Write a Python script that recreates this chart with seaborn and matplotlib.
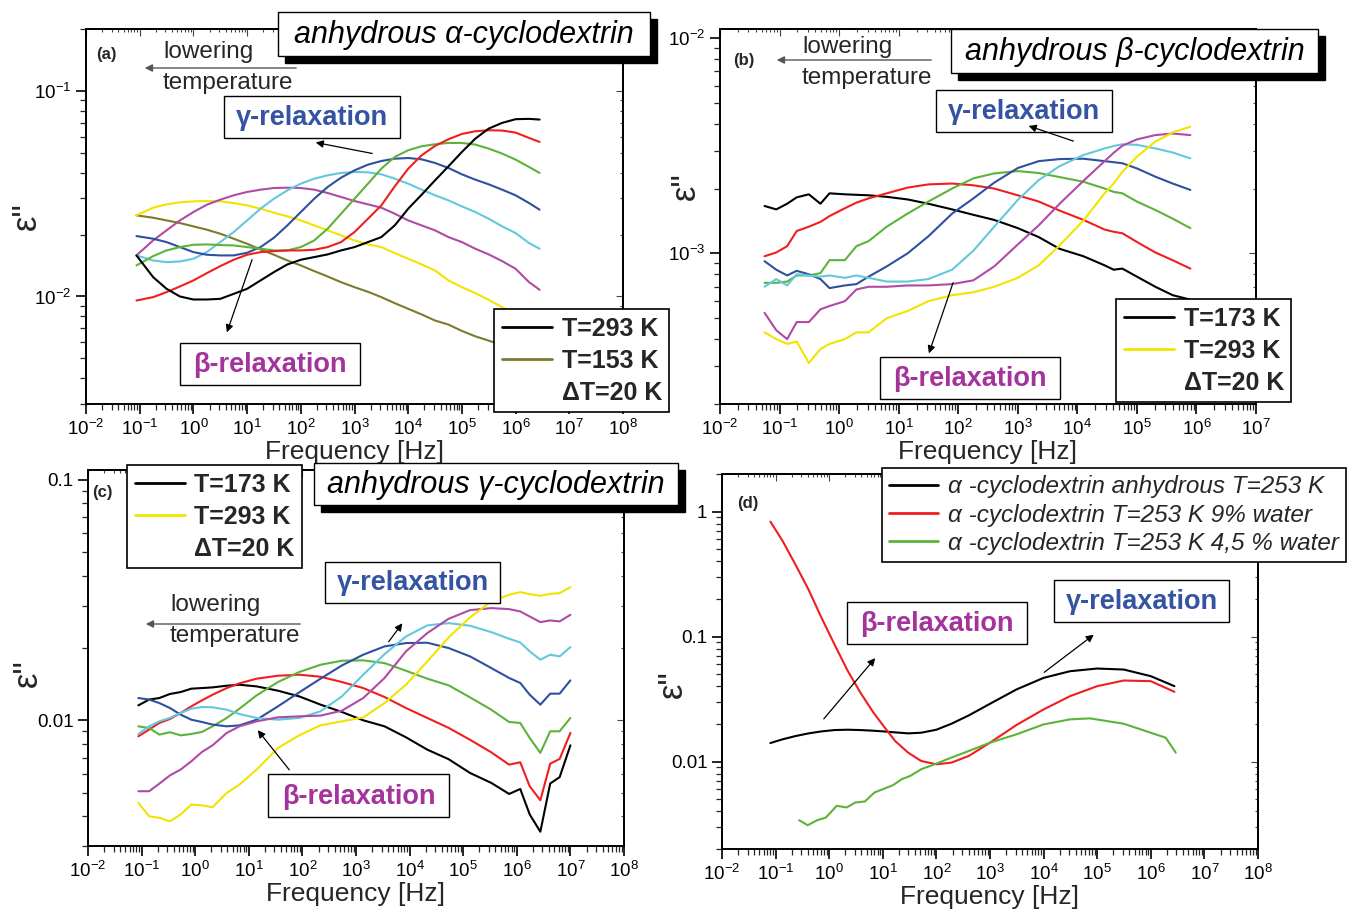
import matplotlib
matplotlib.use("Agg")
import matplotlib.pyplot as plt
import matplotlib.ticker as mticker
from matplotlib.lines import Line2D
from matplotlib.patches import Rectangle, FancyArrowPatch
import seaborn as sns

W, H = 1349, 913

# series colours
BLACK = "#000000"
RED = "#f01e1e"
GREEN = "#5db33a"
BLUE = "#2f4f9f"
CYAN = "#62c9dc"
MAGENTA = "#b04aa6"
YELLOW = "#f2e400"
OLIVE = "#7d7a2c"
GAMMA_COL = "#3553a3"
BETA_COL = "#a4339c"

# (a) anhydrous alpha-cyclodextrin, 293 K down to 153 K
freq_a = [0.087, 0.178, 0.316, 0.562, 1, 1.78, 3.16, 5.62, 10, 17.8, 31.6, 56.2, 100, 178, 316, 562,
          1e3, 1.78e3, 3.16e3, 5.62e3, 1e4, 1.78e4, 3.16e4, 5.62e4, 1e5, 1.78e5, 3.16e5, 5.62e5, 1e6, 1.78e6, 2.8e6]
a_293 = [0.01584, 0.01242, 0.0109, 0.0100, 0.00967, 0.00967, 0.00974, 0.0103, 0.0109, 0.01197, 0.01314, 0.01432, 0.01509,
         0.01555, 0.01602, 0.01675, 0.01739, 0.01839, 0.01945, 0.02217, 0.02673, 0.03127, 0.03673, 0.04296, 0.05047,
         0.05861, 0.06557, 0.06989, 0.07283, 0.0731, 0.07254]
a_273 = [0.00956, 0.00993, 0.0105, 0.01119, 0.01197, 0.01299, 0.01405, 0.01509, 0.01596, 0.01644, 0.01662, 0.01675, 0.01675,
         0.01688, 0.01739, 0.01839, 0.02058, 0.02389, 0.02774, 0.03434, 0.04185, 0.04862, 0.054, 0.05816, 0.06175,
         0.06363, 0.06436, 0.06412, 0.06269, 0.05904, 0.05645]
a_253 = [0.01416, 0.01572, 0.01675, 0.01739, 0.01785, 0.01792, 0.01779, 0.01772, 0.01739, 0.01707, 0.01675, 0.01675, 0.01739,
         0.01874, 0.02136, 0.02527, 0.02989, 0.03538, 0.04185, 0.04772, 0.05144, 0.05378, 0.055, 0.05583, 0.05583,
         0.0548, 0.0524, 0.04954, 0.04632, 0.04266, 0.03989]
a_233 = [0.01967, 0.0191, 0.01839, 0.01739, 0.01644, 0.01596, 0.01584, 0.01584, 0.01632, 0.01739, 0.01931, 0.02217, 0.02575,
         0.02989, 0.03409, 0.03784, 0.04108, 0.04377, 0.0456, 0.04681, 0.04716, 0.04646, 0.04461, 0.04217, 0.03928,
         0.037, 0.03512, 0.03308, 0.03105, 0.02848, 0.02643]
a_213 = [0.01584, 0.01497, 0.01469, 0.0148, 0.01526, 0.01644, 0.01839, 0.02058, 0.02345, 0.02673, 0.02989, 0.03283, 0.03538,
         0.03742, 0.03885, 0.03989, 0.04033, 0.04018, 0.03928, 0.03742, 0.03538, 0.03308, 0.03105, 0.02935, 0.02744,
         0.02575, 0.02389, 0.02193, 0.02035, 0.01819, 0.01707]
a_193 = [0.01584, 0.01874, 0.02097, 0.02345, 0.02575, 0.02795, 0.02957, 0.03105, 0.03224, 0.03308, 0.0337, 0.03383, 0.0337,
         0.03308, 0.03187, 0.03048, 0.02913, 0.02806, 0.02703, 0.02527, 0.02345, 0.02217, 0.02097, 0.01945, 0.01839,
         0.01707, 0.01602, 0.01486, 0.01364, 0.01174, 0.01078]
a_173 = [0.02481, 0.02703, 0.02806, 0.0287, 0.02902, 0.02913, 0.02902, 0.02848, 0.02774, 0.02673, 0.02556, 0.02453, 0.02345,
         0.02217, 0.02097, 0.01982, 0.01874, 0.01792, 0.01739, 0.01626, 0.01526, 0.01432, 0.01339, 0.01197, 0.0111,
         0.01038, 0.00963, 0.00887, 0.00823, 0.00778, 0.0075]
a_153 = [0.02481, 0.02416, 0.02345, 0.02276, 0.02193, 0.02113, 0.0202, 0.0191, 0.01805, 0.01694, 0.01596, 0.01497, 0.01416,
         0.01329, 0.01251, 0.01174, 0.0111, 0.01054, 0.00993, 0.00928, 0.00871, 0.00818, 0.00764, 0.0073, 0.0068,
         0.0064, 0.0061, 0.0058, 0.0055, 0.0052, 0.0049]

# (b) anhydrous beta-cyclodextrin, 173 K up to 293 K
freq_b = [0.056, 0.088, 0.134, 0.194, 0.31, 0.486, 0.69, 1.25, 1.95, 3.13, 6.3, 14.1, 31.5, 79, 180, 402,
          1000, 2250, 5040, 12650, 28700, 40800, 57000, 1e5, 2.04e5, 3.98e5, 7.9e5]
b_173 = [0.00166, 0.0016, 0.0017, 0.00182, 0.00188, 0.0017, 0.0019, 0.00188, 0.00187, 0.00186, 0.00183, 0.00178, 0.0017, 0.0016,
         0.00151, 0.00143, 0.00131, 0.00119, 0.00105, 0.00097, 0.00088, 0.00084, 0.00085, 0.00078, 0.0007, 0.00064, 0.00061]
b_193 = [0.00097, 0.00101, 0.00108, 0.00127, 0.00133, 0.0014, 0.00149, 0.00162, 0.00172, 0.0018, 0.0019, 0.00202, 0.00209, 0.00211,
         0.00207, 0.002, 0.00186, 0.00174, 0.00158, 0.00143, 0.00129, 0.00126, 0.00124, 0.00113, 0.00101, 0.00093, 0.00085]
b_213 = [0.00073, 0.00073, 0.00074, 0.00079, 0.00079, 0.00081, 0.00093, 0.00093, 0.00108, 0.00114, 0.00133, 0.00153, 0.00174, 0.002,
         0.00223, 0.00235, 0.00241, 0.00236, 0.00226, 0.00215, 0.002, 0.00193, 0.0019, 0.00174, 0.00159, 0.00145, 0.00131]
b_233 = [0.00092, 0.00084, 0.00079, 0.00083, 0.0008, 0.00076, 0.00069, 0.00071, 0.00072, 0.00078, 0.00087, 0.001, 0.0012, 0.00153,
         0.0018, 0.00213, 0.00249, 0.00268, 0.00274, 0.00275, 0.00268, 0.00265, 0.00262, 0.00248, 0.00227, 0.00211, 0.00197]
b_253 = [0.0007, 0.00076, 0.00071, 0.0008, 0.00079, 0.00078, 0.00079, 0.00077, 0.00079, 0.00077, 0.00074, 0.00074, 0.00076, 0.00084,
         0.00103, 0.00133, 0.00177, 0.00219, 0.00254, 0.00286, 0.00307, 0.00315, 0.00321, 0.00319, 0.00307, 0.00294, 0.00276]
b_273 = [0.00053, 0.00044, 0.0004, 0.00048, 0.00048, 0.00055, 0.00057, 0.0006, 0.00068, 0.0007, 0.0007, 0.00071, 0.00071, 0.00072,
         0.00075, 0.00087, 0.0011, 0.00135, 0.0017, 0.00217, 0.00268, 0.00293, 0.00316, 0.00338, 0.00354, 0.0036, 0.00354]
b_293 = [0.00043, 0.0004, 0.00038, 0.00039, 0.00031, 0.00036, 0.00038, 0.0004, 0.00043, 0.00043, 0.0005, 0.00054, 0.0006, 0.00064,
         0.00066, 0.0007, 0.00077, 0.00088, 0.00109, 0.00142, 0.0019, 0.00211, 0.00239, 0.00281, 0.0033, 0.00364, 0.00387]

# (c) anhydrous gamma-cyclodextrin, 173 K up to 293 K
freq_c = [0.087, 0.138, 0.214, 0.338, 0.535, 0.845, 1.34, 2.11, 3.87, 6.7, 14, 35, 87, 218, 546, 1365, 3410, 8550,
          21400, 53500, 1.34e5, 3.34e5, 7.2e5, 1.16e6, 1.74e6, 2.75e6, 4.2e6, 6.3e6, 1.0e7]
c_173 = [0.01154, 0.0122, 0.01238, 0.01287, 0.01311, 0.01354, 0.01362, 0.01371, 0.01393, 0.01406, 0.01384, 0.01328, 0.01258, 0.01162,
         0.01083, 0.0100, 0.00944, 0.0085, 0.00755, 0.00689, 0.00604, 0.00549, 0.00494, 0.00518, 0.00406, 0.00344, 0.00546, 0.0058, 0.00787]
c_193 = [0.00858, 0.00915, 0.00975, 0.01013, 0.01073, 0.01143, 0.01211, 0.01278, 0.01362, 0.01425, 0.0149, 0.01533, 0.01548, 0.01518,
         0.01443, 0.01362, 0.0125, 0.01125, 0.01023, 0.0093, 0.0083, 0.00736, 0.00654, 0.00669, 0.00532, 0.00465, 0.0066, 0.00691, 0.00886]
c_213 = [0.00944, 0.00929, 0.00872, 0.00892, 0.00866, 0.00877, 0.00895, 0.00944, 0.01023, 0.01118, 0.0127, 0.01443, 0.01588, 0.01703,
         0.0177, 0.01776, 0.0173, 0.01608, 0.0149, 0.01398, 0.01246, 0.01107, 0.00984, 0.00975, 0.00845, 0.00732, 0.009, 0.009, 0.01023]
c_233 = [0.01238, 0.0122, 0.0118, 0.01125, 0.01056, 0.01006, 0.00984, 0.0096, 0.00944, 0.00953, 0.01006, 0.01143, 0.01307, 0.0149,
         0.01692, 0.01875, 0.0203, 0.02096, 0.02103, 0.01998, 0.01845, 0.0165, 0.015, 0.0143, 0.01278, 0.01162, 0.01291, 0.01291, 0.01466]
c_253 = [0.00877, 0.00944, 0.0099, 0.01023, 0.01073, 0.01118, 0.01136, 0.01133, 0.01107, 0.01062, 0.01023, 0.01006, 0.01023, 0.0109,
         0.01258, 0.01548, 0.01886, 0.02233, 0.02482, 0.02538, 0.02474, 0.02328, 0.02184, 0.02109, 0.01936, 0.01788, 0.01875, 0.01845, 0.02017]
c_273 = [0.00507, 0.00507, 0.00545, 0.0059, 0.00624, 0.00675, 0.00739, 0.00787, 0.00886, 0.00944, 0.0099, 0.01029, 0.01039, 0.01046,
         0.01097, 0.01238, 0.015, 0.01936, 0.02307, 0.02645, 0.02873, 0.0293, 0.02901, 0.02837, 0.02704, 0.02562, 0.02603, 0.02579, 0.02748]
c_293 = [0.00453, 0.00399, 0.00393, 0.0038, 0.00406, 0.00446, 0.00443, 0.00435, 0.00499, 0.0054, 0.00624, 0.00767, 0.00866, 0.00953,
         0.0099, 0.01029, 0.0118, 0.01406, 0.01758, 0.02212, 0.02679, 0.03122, 0.03329, 0.03414, 0.03349, 0.03296, 0.03359, 0.03381, 0.03581]

# (d) alpha-cyclodextrin at 253 K, dry and hydrated
freq_d = [0.08, 0.135, 0.236, 0.413, 0.721, 1.26, 2.2, 3.84, 6.72, 10, 17, 29.7, 52, 100, 191, 402,
          1000, 3110, 1e4, 31200, 1e5, 3.13e5, 1e6, 2.76e6]
d_dry = [0.01409, 0.01508, 0.01602, 0.01683, 0.01746, 0.01789, 0.018, 0.01789, 0.01767, 0.01746, 0.01714, 0.01683,
         0.01703, 0.018, 0.0201, 0.02343, 0.02903, 0.03777, 0.04679, 0.0529, 0.05556, 0.05454, 0.04826, 0.04015]
d_9pct = [0.832, 0.583, 0.3754, 0.2371, 0.141, 0.0863, 0.05355, 0.03553, 0.0246, 0.01962, 0.01462, 0.0118,
          0.01012, 0.00952, 0.00982, 0.0111, 0.01418, 0.01962, 0.02616, 0.03342, 0.04015, 0.04456, 0.04401, 0.03619]
freq_d_green = [0.274, 0.398, 0.598, 0.868, 1.38, 2.12, 3.07, 4.63, 6.97, 10, 15.5, 22.5, 32.6, 52, 100, 159,
                402, 1000, 3110, 1e4, 31200, 73500, 3.13e5, 1e6, 1.9e6, 2.92e6]
d_4p5pct = [0.0034, 0.0031, 0.0034, 0.00357, 0.00443, 0.0043, 0.00471, 0.0048, 0.00566, 0.00602, 0.00648, 0.00723, 0.00769,
            0.00869, 0.00964, 0.01045, 0.01217, 0.01418, 0.01652, 0.01985, 0.02178, 0.02218, 0.0201, 0.01703, 0.01554, 0.0118]

sns.set_theme(style="ticks")
plt.rcParams["font.family"] = ["Liberation Sans", "DejaVu Sans"]
plt.rcParams["mathtext.fontset"] = "custom"
plt.rcParams["mathtext.rm"] = "Liberation Sans"
plt.rcParams["mathtext.it"] = "Liberation Sans:italic"
plt.rcParams["mathtext.bf"] = "Liberation Sans:bold"


def fx(px):
    return px / W


def fy(py):
    return 1 - py / H


def panel(fig, x0, y0, x1, y1):
    return fig.add_axes([fx(x0), fy(y1), (x1 - x0) / W, (y1 - y0) / H])


def style_axis(ax, xmax, ylim, ylab_pos, plain_y=False):
    ax.set_xscale("log")
    ax.set_yscale("log")
    ax.set_xlim(1e-2, xmax)
    ax.set_ylim(*ylim)
    ax.xaxis.set_major_locator(mticker.LogLocator(base=10, numticks=15))
    ax.xaxis.set_minor_locator(mticker.LogLocator(base=10, subs=range(2, 10), numticks=15))
    ax.xaxis.set_minor_formatter(mticker.NullFormatter())
    ax.yaxis.set_minor_formatter(mticker.NullFormatter())
    if plain_y:
        ax.yaxis.set_major_formatter(mticker.FuncFormatter(lambda v, p: f"{v:g}"))
    for s in ax.spines.values():
        s.set_linewidth(1.4)
        s.set_color("black")
    ax.tick_params(which="major", direction="out", length=7, width=1.2, labelsize=13.5, colors="black")
    ax.tick_params(which="minor", direction="out", length=4, width=0.9)
    # inward ticks on the top and right frame, Origin style
    top = ax.secondary_xaxis("top")
    top.xaxis.set_major_locator(mticker.LogLocator(base=10, numticks=15))
    top.xaxis.set_minor_locator(mticker.LogLocator(base=10, subs=range(2, 10), numticks=15))
    top.tick_params(which="both", direction="in", labeltop=False, width=0.8, color="#444444")
    top.tick_params(which="major", length=5)
    top.tick_params(which="minor", length=2.5)
    right = ax.secondary_yaxis("right")
    right.tick_params(which="both", direction="in", labelright=False, width=0.8, color="#444444")
    right.tick_params(which="major", length=5)
    right.tick_params(which="minor", length=2.5)
    right.yaxis.set_minor_formatter(mticker.NullFormatter())
    ax.set_xlabel("Frequency [Hz]", fontsize=19, labelpad=1)
    ax.set_ylabel('ε"', fontsize=25)
    ax.yaxis.set_label_coords(*ylab_pos)


def draw_curves(ax, freq, series):
    for vals, col in series:
        sns.lineplot(x=freq, y=vals, ax=ax, color=col, lw=1.5, legend=False, sort=False)


def boxed(fig, x0, y0, x1, y1, text, color="black", size=19.5, weight="bold", style="normal", shadow=False):
    if shadow:
        fig.add_artist(Rectangle((fx(x0 + 7), fy(y1 + 7)), (x1 - x0) / W, (y1 - y0) / H,
                                 transform=fig.transFigure, facecolor="black", edgecolor="black", zorder=5))
    fig.add_artist(Rectangle((fx(x0), fy(y1)), (x1 - x0) / W, (y1 - y0) / H, transform=fig.transFigure,
                             facecolor="white", edgecolor="black", lw=1.0, zorder=6))
    fig.text(fx((x0 + x1) / 2), fy((y0 + y1) / 2 + 1), text, ha="center", va="center", color=color,
             fontsize=size, fontweight=weight, fontstyle=style, zorder=7)


def arrow(fig, x0, y0, x1, y1, color="black"):
    fig.add_artist(FancyArrowPatch((fx(x0), fy(y0)), (fx(x1), fy(y1)), transform=fig.transFigure,
                                   arrowstyle="-|>", mutation_scale=11, color=color, lw=0.9, zorder=8))


def lowering(fig, x, y_top, ax0, ax1, ay):
    fig.text(fx(x), fy(y_top), "lowering", ha="left", va="center", fontsize=17.5, zorder=7)
    fig.text(fx(x), fy(y_top + 31), "temperature", ha="left", va="center", fontsize=17.5, zorder=7)
    fig.add_artist(FancyArrowPatch((fx(ax0), fy(ay)), (fx(ax1), fy(ay)), transform=fig.transFigure,
                                   arrowstyle="-|>", mutation_scale=11, color="#555555", lw=1.0, zorder=8))


def temp_legend(ax, fig, items, x0, y0, size=18, style="normal", weight="bold", spacing=0.32):
    handles = [Line2D([], [], color=c if c else "none", lw=2) for c, _ in items]
    labels = [t for _, t in items]
    leg = ax.legend(handles, labels, loc="upper left", bbox_to_anchor=(fx(x0), fy(y0)),
                    bbox_transform=fig.transFigure, borderaxespad=0, fancybox=False, framealpha=1,
                    handlelength=2.0, handletextpad=0.4, labelspacing=spacing, borderpad=0.3,
                    prop={"size": size, "weight": weight, "style": style})
    leg.get_frame().set_edgecolor("black")
    leg.get_frame().set_linewidth(1.2)
    leg.set_zorder(10)


fig = plt.figure(figsize=(W / 100, H / 100), dpi=100)

# ---- (a)
ax_a = panel(fig, 86, 29, 623, 404)
draw_curves(ax_a, freq_a, [(a_153, OLIVE), (a_173, YELLOW), (a_193, MAGENTA), (a_213, CYAN),
                           (a_233, BLUE), (a_253, GREEN), (a_273, RED), (a_293, BLACK)])
style_axis(ax_a, 1e8, (0.003, 0.2), (-0.08, 0.5))
temp_legend(ax_a, fig, [(BLACK, "T=293 K"), (OLIVE, "T=153 K"), (None, "ΔT=20 K")], 494, 309)
fig.text(fx(96), fy(54), "(a)", fontsize=12, fontweight="bold", ha="left", va="center")
lowering(fig, 163, 52, 299, 142, 68)
boxed(fig, 278, 12, 650, 56, "anhydrous α-cyclodextrin", size=22, weight="normal", style="italic", shadow=True)
boxed(fig, 224, 96, 400, 138, "γ-relaxation", color=GAMMA_COL)
boxed(fig, 180, 343, 360, 385, "β-relaxation", color=BETA_COL)
arrow(fig, 375, 154, 313, 142)
arrow(fig, 253, 257, 226, 335)

# ---- (b)
ax_b = panel(fig, 720, 29, 1256, 404)
draw_curves(ax_b, freq_b, [(b_173, BLACK), (b_193, RED), (b_213, GREEN), (b_233, BLUE),
                           (b_253, CYAN), (b_273, MAGENTA), (b_293, YELLOW)])
style_axis(ax_b, 1e7, (2e-4, 1.1e-2), (-0.033, 0.58))
temp_legend(ax_b, fig, [(BLACK, "T=173 K"), (YELLOW, "T=293 K"), (None, "ΔT=20 K")], 1116, 299)
fig.text(fx(733), fy(60), "(b)", fontsize=12, fontweight="bold", ha="left", va="center")
lowering(fig, 802, 47, 934, 774, 60)
boxed(fig, 951, 29, 1318, 73, "anhydrous β-cyclodextrin", size=22, weight="normal", style="italic", shadow=True)
boxed(fig, 936, 90, 1112, 132, "γ-relaxation", color=GAMMA_COL)
boxed(fig, 880, 357, 1060, 399, "β-relaxation", color=BETA_COL)
arrow(fig, 1076, 142, 1026, 125)
arrow(fig, 954, 280, 928, 356)

# ---- (c)
ax_c = panel(fig, 88, 470, 624, 846)
draw_curves(ax_c, freq_c, [(c_173, BLACK), (c_193, RED), (c_213, GREEN), (c_233, BLUE),
                           (c_253, CYAN), (c_273, MAGENTA), (c_293, YELLOW)])
style_axis(ax_c, 1e8, (0.003, 0.11), (-0.083, 0.46), plain_y=True)
temp_legend(ax_c, fig, [(BLACK, "T=173 K"), (YELLOW, "T=293 K"), (None, "ΔT=20 K")], 127, 465)
fig.text(fx(92), fy(492), "(c)", fontsize=12, fontweight="bold", ha="left", va="center")
lowering(fig, 170, 605, 303, 143, 624)
boxed(fig, 314, 463, 678, 505, "anhydrous γ-cyclodextrin", size=22, weight="normal", style="italic", shadow=True)
boxed(fig, 325, 562, 500, 603, "γ-relaxation", color=GAMMA_COL)
boxed(fig, 268, 774, 449, 817, "β-relaxation", color=BETA_COL)
arrow(fig, 387, 644, 404, 621)
arrow(fig, 291, 772, 256, 728)

# ---- (d)
ax_d = panel(fig, 722, 474, 1258, 849)
sns.lineplot(x=freq_d, y=d_dry, ax=ax_d, color=BLACK, lw=1.5, legend=False, sort=False)
sns.lineplot(x=freq_d, y=d_9pct, ax=ax_d, color=RED, lw=1.5, legend=False, sort=False)
sns.lineplot(x=freq_d_green, y=d_4p5pct, ax=ax_d, color=GREEN, lw=1.5, legend=False, sort=False)
style_axis(ax_d, 1e8, (0.002, 2.0), (-0.062, 0.44), plain_y=True)
temp_legend(ax_d, fig, [(BLACK, "α -cyclodextrin anhydrous T=253 K"),
                        (RED, "α -cyclodextrin T=253 K 9% water"),
                        (GREEN, "α -cyclodextrin T=253 K 4,5 % water")],
            882, 468, size=17.5, style="italic", weight="normal", spacing=0.22)
fig.text(fx(737), fy(503), "(d)", fontsize=12, fontweight="bold", ha="left", va="center")
boxed(fig, 847, 602, 1027, 644, "β-relaxation", color=BETA_COL)
boxed(fig, 1054, 580, 1229, 622, "γ-relaxation", color=GAMMA_COL)
arrow(fig, 822, 721, 877, 656)
arrow(fig, 1042, 674, 1096, 633)

fig.savefig("out.png", dpi=100)
